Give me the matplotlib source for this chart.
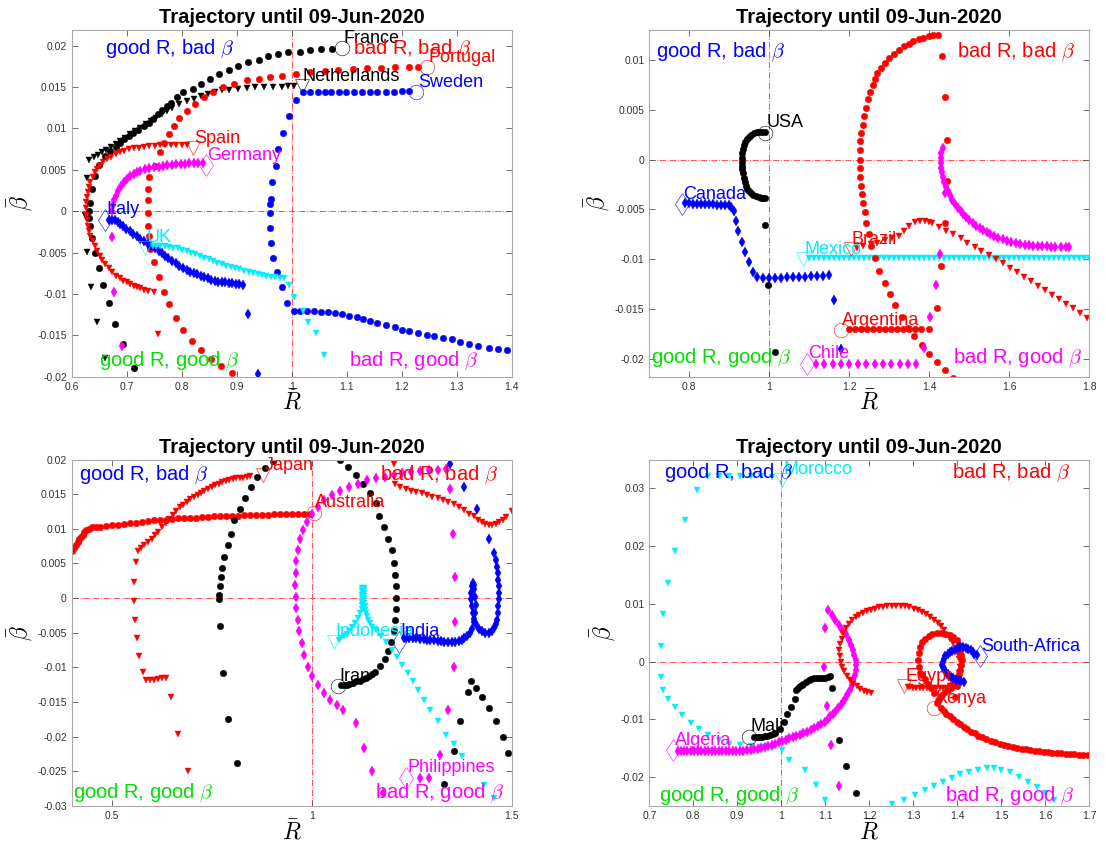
import matplotlib
matplotlib.use("Agg")
import matplotlib.pyplot as plt
import numpy as np
from matplotlib.ticker import FuncFormatter

plt.rcParams['font.family'] = ['Liberation Sans', 'DejaVu Sans']
plt.rcParams['mathtext.fontset'] = 'cm'

TITLE = 'Trajectory until 09-Jun-2020'

# ---------------- panel 1 (Europe) ----------------
france = [(0.7125,-0.0189),(0.693,-0.0161),(0.679,-0.0136),(0.668,-0.0111),(0.657,-0.0089),(0.649,-0.0068),
          (0.642,-0.005),(0.637,-0.0032),(0.633,-0.0018),(0.631,-0.0008),(0.632,0.0),(0.634,0.001),(0.637,0.0027),
          (0.642,0.0043),(0.650,0.0056),(0.661,0.0067),(0.670,0.0073),(0.68,0.0078),(0.688,0.0083),(0.696,0.0087),
          (0.704,0.0091),(0.711,0.0095),(0.72,0.0098),(0.732,0.0103),(0.740,0.0107),(0.748,0.0111),(0.757,0.0117),
          (0.765,0.0122),(0.773,0.0127),(0.781,0.0131),(0.792,0.0138),(0.803,0.0144),(0.82,0.0148),(0.836,0.0154),
          (0.852,0.016),(0.868,0.0166),(0.886,0.0171),(0.902,0.0175),(0.92,0.018),(0.94,0.0183),(0.957,0.0187),
          (0.976,0.019),(0.994,0.0192),(1.015,0.0193),(1.034,0.0195),(1.053,0.0196),(1.073,0.0196)]
france_end = (1.092, 0.0197)

netherlands = [(0.661,-0.0177),(0.646,-0.0134),(0.635,-0.0091),(0.628,-0.0049),(0.624,-0.0004),(0.627,0.004),
               (0.632,0.0062),(0.640,0.0065),(0.648,0.0068),(0.655,0.0071),(0.663,0.0074),(0.672,0.0078),(0.68,0.0081),
               (0.688,0.0085),(0.697,0.0089),(0.706,0.0093),(0.715,0.0097),(0.725,0.0101),(0.735,0.0105),(0.745,0.0109),
               (0.754,0.0113),(0.764,0.0117),(0.774,0.0121),(0.783,0.0125),(0.796,0.0129),(0.809,0.0133),(0.822,0.0136),
               (0.835,0.0139),(0.848,0.0142),(0.86,0.0144),(0.873,0.0146),(0.886,0.0147),(0.902,0.0148),(0.918,0.0149),
               (0.934,0.015),(0.95,0.015),(0.966,0.015),(0.982,0.015),(0.994,0.0151),(1.005,0.0151)]
netherlands_end = (1.018, 0.0151)

portugal = [(0.891,-0.0195),(0.872,-0.0187),(0.854,-0.0178),(0.835,-0.0168),(0.819,-0.0157),(0.803,-0.0143),
            (0.79,-0.0129),(0.777,-0.0112),(0.767,-0.0097),(0.758,-0.0079),(0.749,-0.0061),(0.743,-0.0046),
            (0.741,-0.003),(0.739,-0.0018),(0.738,-0.0002),(0.738,0.0013),(0.739,0.0027),(0.741,0.0041),
            (0.751,0.0055),(0.761,0.0071),(0.767,0.0083),(0.777,0.0093),(0.786,0.0103),(0.796,0.0113),
            (0.809,0.0121),(0.825,0.0129),(0.841,0.0138),(0.857,0.0144),(0.876,0.015),(0.896,0.0154),
            (0.918,0.0158),(0.941,0.016),(0.96,0.0162),(0.983,0.0164),(1.008,0.0166),(1.034,0.0168),
            (1.06,0.017),(1.085,0.0171),(1.111,0.0172),(1.137,0.0173),(1.163,0.0173),(1.188,0.0174),
            (1.214,0.0174),(1.23,0.0174)]
portugal_end = (1.247, 0.0174)

sweden = [(1.391,-0.0168),(1.375,-0.0166),(1.359,-0.0165),(1.339,-0.0163),(1.323,-0.016),(1.307,-0.0158),
          (1.291,-0.0155),(1.275,-0.0153),(1.259,-0.0151),(1.246,-0.0149),(1.23,-0.0147),(1.214,-0.0145),
          (1.201,-0.0143),(1.188,-0.014),(1.172,-0.0138),(1.156,-0.0135),(1.143,-0.0133),(1.13,-0.013),
          (1.118,-0.0128),(1.105,-0.0126),(1.092,-0.0124),(1.079,-0.0123),(1.066,-0.0122),(1.053,-0.0122),
          (1.04,-0.0121),(1.028,-0.0121),(1.015,-0.012),(1.004,-0.012),(0.992,-0.0111),(0.983,-0.0092),
          (0.974,-0.0074),(0.966,-0.0056),(0.963,-0.0038),(0.961,-0.002),(0.96,-0.0002),(0.96,0.0009),
          (0.963,0.0015),(0.965,0.0035),(0.972,0.0055),(0.976,0.0075),(0.985,0.0094),(0.995,0.0115),
          (1.008,0.0134),(1.021,0.0144),(1.034,0.0144),(1.047,0.0144),(1.06,0.0144),(1.072,0.0144),
          (1.086,0.0144),(1.099,0.0144),(1.113,0.0144),(1.128,0.0144),(1.142,0.0144),(1.156,0.0144),
          (1.172,0.0144),(1.186,0.0144),(1.2,0.0145),(1.214,0.0145)]
sweden_end = (1.227, 0.0144)

italy = [(0.938,-0.0197),(0.921,-0.0124),(0.912,-0.0089),(0.905,-0.0088),(0.899,-0.0088),(0.892,-0.0087),
         (0.886,-0.0087),(0.879,-0.0086),(0.873,-0.0086),(0.866,-0.0085),(0.86,-0.0084),(0.854,-0.0083),
         (0.848,-0.0081),(0.841,-0.008),(0.835,-0.0078),(0.828,-0.0076),(0.822,-0.0075),(0.815,-0.0073),
         (0.809,-0.0071),(0.802,-0.0068),(0.796,-0.0066),(0.79,-0.0063),(0.783,-0.006),(0.776,-0.0057),
         (0.77,-0.0054),(0.764,-0.0051),(0.758,-0.0048),(0.751,-0.0045),(0.745,-0.0042),(0.738,-0.0039),
         (0.732,-0.0036),(0.725,-0.0033),(0.719,-0.003),(0.712,-0.0027),(0.706,-0.0024),(0.699,-0.0021),
         (0.693,-0.0018),(0.688,-0.0015),(0.684,-0.0013),(0.679,-0.0011),(0.674,-0.001),(0.668,-0.001)]
italy_end = (0.661, -0.001)

germany = [(0.692,-0.0163),(0.677,-0.0097),(0.673,-0.0031),(0.674,0.0),(0.675,0.0007),(0.677,0.0013),
           (0.68,0.0019),(0.685,0.0025),(0.69,0.0031),(0.695,0.0035),(0.7,0.0039),(0.706,0.0042),(0.713,0.0045),
           (0.719,0.0047),(0.725,0.0049),(0.733,0.0051),(0.741,0.0052),(0.75,0.0053),(0.758,0.0054),(0.766,0.0055),
           (0.774,0.0056),(0.782,0.0056),(0.79,0.0057),(0.798,0.0057),(0.806,0.0057),(0.814,0.0058),(0.822,0.0058),
           (0.83,0.0058),(0.838,0.0058)]
germany_end = (0.844, 0.0056)

spain = [(0.757,-0.0148),(0.749,-0.0097),(0.738,-0.0096),(0.731,-0.0095),(0.725,-0.0093),(0.719,-0.0092),
         (0.713,-0.009),(0.706,-0.0088),(0.7,-0.0086),(0.693,-0.0084),(0.687,-0.0081),(0.68,-0.0078),
         (0.674,-0.0074),(0.667,-0.0069),(0.661,-0.0064),(0.656,-0.0059),(0.651,-0.0054),(0.646,-0.0048),
         (0.642,-0.0042),(0.638,-0.0036),(0.634,-0.003),(0.631,-0.0024),(0.629,-0.0018),(0.627,-0.0011),
         (0.626,-0.0004),(0.626,0.0004),(0.626,0.0011),(0.627,0.0017),(0.629,0.0023),(0.631,0.0029),
         (0.634,0.0035),(0.638,0.0041),(0.642,0.0047),(0.646,0.0051),(0.651,0.0055),(0.657,0.0059),
         (0.664,0.0063),(0.672,0.0066),(0.68,0.0069),(0.688,0.0071),(0.696,0.0073),(0.704,0.0075),
         (0.713,0.0076),(0.722,0.0077),(0.732,0.0078),(0.741,0.0079),(0.751,0.0079),(0.76,0.008),
         (0.77,0.008),(0.78,0.008),(0.79,0.008),(0.8,0.008),(0.809,0.008)]
spain_end = (0.82, 0.0076)

uk = [(1.058,-0.0174),(1.044,-0.0147),(1.029,-0.0134),(1.02,-0.0121),(1.005,-0.0104),(0.995,-0.0089),
      (0.986,-0.0081),(0.978,-0.0081),(0.97,-0.008),(0.962,-0.0079),(0.954,-0.0078),(0.946,-0.0077),
      (0.938,-0.0076),(0.93,-0.0075),(0.922,-0.0073),(0.913,-0.0072),(0.905,-0.007),(0.897,-0.0069),
      (0.889,-0.0067),(0.881,-0.0066),(0.873,-0.0064),(0.865,-0.0062),(0.857,-0.006),(0.849,-0.0058),
      (0.841,-0.0056),(0.833,-0.0054),(0.825,-0.0052),(0.817,-0.005),(0.809,-0.0048),(0.801,-0.0047),
      (0.793,-0.0045),(0.785,-0.0044),(0.777,-0.0043),(0.769,-0.0042),(0.761,-0.0042),(0.754,-0.0042),
      (0.748,-0.0042)]
uk_end = (0.734, -0.0044)

# ---------------- panel 2 (Americas) ----------------
usa = [(0.989,0.0028),(0.982,0.0028),(0.975,0.0028),(0.968,0.0028),(0.962,0.0027),(0.955,0.0025),
       (0.949,0.0023),(0.944,0.0021),(0.94,0.0018),(0.937,0.0015),(0.934,0.0011),(0.932,0.0007),
       (0.931,0.0002),(0.931,-0.0002),(0.931,-0.0006),(0.932,-0.001),(0.934,-0.0014),(0.936,-0.0019),
       (0.938,-0.0023),(0.941,-0.0027),(0.944,-0.003),(0.948,-0.0032),(0.953,-0.0034),(0.96,-0.0036),
       (0.967,-0.0037),(0.973,-0.0038),(0.98,-0.0039),(0.985,-0.0039),(0.989,-0.0039),
       (0.989,-0.0066),(0.997,-0.0126),(1.013,-0.0193)]
usa_end = (0.989, 0.0027)

canada = [(0.79,-0.0044),(0.8,-0.0044),(0.81,-0.0045),(0.82,-0.0045),(0.83,-0.0045),(0.84,-0.0045),
          (0.85,-0.0045),(0.86,-0.0045),(0.87,-0.0046),(0.88,-0.0046),(0.89,-0.0046),(0.9,-0.0046),
          (0.905,-0.0048),(0.911,-0.0052),(0.916,-0.0062),(0.922,-0.0072),(0.931,-0.0083),(0.94,-0.0093),
          (0.95,-0.0103),(0.96,-0.0113),(0.97,-0.0118),(0.985,-0.0119),(1.0,-0.0119),(1.015,-0.0119),
          (1.03,-0.0119),(1.045,-0.0118),(1.06,-0.0118),(1.075,-0.0118),(1.09,-0.0118),(1.105,-0.0117),
          (1.12,-0.0117),(1.135,-0.0117),(1.15,-0.0116),(1.162,-0.0141),(1.18,-0.019)]
canada_end = (0.782, -0.0045)

mexico_R = [1.100,1.112,1.125,1.137,1.150,1.162,1.175,1.187,1.200,1.212,1.225,1.237,1.250,1.262,1.275,
            1.287,1.300,1.312,1.325,1.337,1.350,1.362,1.375,1.387,1.400,1.412,1.425,1.437,1.450,1.462,
            1.475,1.487,1.500,1.512,1.525,1.537,1.550,1.562,1.575,1.587,1.600,1.612,1.625,1.637,1.650,
            1.662,1.675,1.687,1.700,1.712,1.725,1.737,1.750,1.762,1.775,1.787,1.800]
mexico_b = -0.0099
mexico_end = (1.085, -0.0100)

brazil = [(1.795,-0.0159),(1.777,-0.0154),(1.76,-0.0149),(1.742,-0.0145),(1.724,-0.014),(1.707,-0.0136),
          (1.689,-0.0131),(1.671,-0.0127),(1.654,-0.0122),(1.636,-0.0118),(1.618,-0.0113),(1.601,-0.0109),
          (1.583,-0.0104),(1.566,-0.01),(1.548,-0.0096),(1.53,-0.0092),(1.513,-0.0088),(1.495,-0.0084),
          (1.478,-0.0079),(1.46,-0.0075),(1.442,-0.0072),(1.425,-0.0068),(1.407,-0.0064),(1.398,-0.0063),
          (1.389,-0.0062),(1.376,-0.0062),(1.363,-0.0063),(1.35,-0.0067),(1.337,-0.0072),(1.323,-0.0077),
          (1.306,-0.0079),(1.288,-0.0081),(1.27,-0.0084),(1.253,-0.0085),(1.235,-0.0087),(1.218,-0.0089)]
brazil_end = (1.203, -0.0090)

argentina = [(1.2,-0.017),(1.215,-0.017),(1.23,-0.017),(1.245,-0.017),(1.26,-0.017),(1.275,-0.017),
             (1.29,-0.017),(1.305,-0.017),(1.32,-0.017),(1.335,-0.017),(1.35,-0.017),(1.365,-0.017),
             (1.38,-0.017),(1.4,-0.017),
             (1.459,-0.0219),(1.439,-0.0211),(1.42,-0.0203),(1.4,-0.0195),(1.381,-0.0186),(1.362,-0.0177),
             (1.346,-0.0169),(1.332,-0.0158),(1.315,-0.0146),(1.301,-0.0135),(1.288,-0.0124),(1.274,-0.0112),
             (1.264,-0.0099),(1.255,-0.0087),(1.248,-0.0075),(1.241,-0.0064),(1.238,-0.0053),(1.235,-0.0044),
             (1.231,-0.0035),(1.229,-0.0027),(1.227,-0.0018),(1.226,-0.0008),(1.226,0.0),(1.226,0.001),
             (1.227,0.0019),(1.23,0.0027),(1.233,0.0035),(1.237,0.0044),(1.241,0.0052),(1.246,0.0061),
             (1.251,0.0068),(1.258,0.0075),(1.263,0.0081),(1.27,0.0087),(1.278,0.0092),(1.288,0.0097),
             (1.299,0.0102),(1.311,0.0106),(1.323,0.011),(1.336,0.0114),(1.348,0.0116),(1.36,0.0119),
             (1.373,0.0121),(1.385,0.0122),(1.398,0.0124),(1.41,0.0125),(1.422,0.0125),
             (1.432,0.0104),(1.44,0.0063),(1.444,0.002),(1.443,-0.0022),(1.44,-0.0064),(1.43,-0.0107),
             (1.42,-0.0149)]
argentina_end = (1.178, -0.0171)

chile = [(1.116,-0.0205),(1.137,-0.0205),(1.158,-0.0205),(1.179,-0.0205),(1.2,-0.0205),(1.221,-0.0205),
         (1.242,-0.0205),(1.263,-0.0205),(1.284,-0.0205),(1.305,-0.0205),(1.326,-0.0205),(1.347,-0.0205),
         (1.367,-0.0205),
         (1.387,-0.0189),(1.402,-0.0158),(1.416,-0.0126),(1.426,-0.0095),(1.439,-0.0034),
         (1.433,0.0012),(1.43,0.0007),(1.429,0.0002),(1.429,-0.0003),(1.429,-0.0008),(1.431,-0.0013),
         (1.433,-0.0018),(1.437,-0.0023),(1.442,-0.0028),(1.446,-0.0032),(1.451,-0.0036),(1.457,-0.0041),
         (1.464,-0.0045),(1.471,-0.0049),(1.478,-0.0052),(1.484,-0.0055),(1.491,-0.0058),(1.499,-0.0061),
         (1.508,-0.0064),(1.517,-0.0067),(1.526,-0.0069),(1.535,-0.0071),(1.544,-0.0073),(1.552,-0.0075),
         (1.561,-0.0077),(1.572,-0.0079),(1.583,-0.008),(1.594,-0.0082),(1.605,-0.0083),(1.616,-0.0084),
         (1.627,-0.0085),(1.638,-0.0086),(1.649,-0.0086),(1.66,-0.0087),(1.671,-0.0087),(1.682,-0.0087),
         (1.693,-0.0087),(1.704,-0.0088),(1.715,-0.0088),(1.728,-0.0088),(1.742,-0.0088),(1.75,-0.0088)]
chile_end = (1.094, -0.0205)

# ---------------- panel 3 (Asia / Oceania) ----------------
australia = [(0.401,0.0068),(0.406,0.0072),(0.41,0.0077),(0.415,0.0081),(0.419,0.0085),(0.424,0.0088),
             (0.428,0.0091),(0.432,0.0095),(0.436,0.0098),(0.443,0.01),(0.45,0.0102),(0.46,0.0102),
             (0.47,0.0103),(0.485,0.0104),(0.5,0.0105),(0.515,0.0106),(0.53,0.0107),(0.545,0.0108),
             (0.56,0.0109),(0.575,0.011),(0.59,0.0111),(0.605,0.0112),(0.62,0.0113),(0.635,0.0113),
             (0.65,0.0114),(0.665,0.0115),(0.68,0.0115),(0.695,0.0116),(0.71,0.0116),(0.725,0.0117),
             (0.74,0.0117),(0.755,0.0118),(0.77,0.0118),(0.785,0.0119),(0.8,0.0119),(0.815,0.0119),
             (0.83,0.012),(0.845,0.012),(0.86,0.012),(0.875,0.012),(0.89,0.012),(0.905,0.0121),
             (0.92,0.0121),(0.935,0.0121),(0.95,0.0121),(0.965,0.0121),(0.98,0.0121),(0.995,0.0121)]
australia_end = (1.006, 0.0123)

japan = [(1.5,0.0126),(1.487,0.0117),(1.478,0.0113),(1.469,0.011),(1.46,0.0107),(1.452,0.0105),
         (1.443,0.0105),(1.434,0.0107),(1.425,0.011),(1.416,0.0113),(1.405,0.0118),(1.394,0.0122),
         (1.381,0.0127),(1.368,0.0132),(1.355,0.0136),(1.341,0.0139),(1.328,0.0142),(1.315,0.0144),
         (1.301,0.0146),(1.288,0.0149),(1.275,0.0151),(1.262,0.0153),(1.249,0.0155),(1.236,0.0158),
         (1.222,0.0161),(1.209,0.0165),(1.205,0.0194),
         (0.69,-0.025),(0.666,-0.0196),(0.648,-0.0142),(0.635,-0.0115),(0.625,-0.0116),(0.615,-0.0117),
         (0.605,-0.0118),(0.595,-0.0118),(0.587,-0.0118),(0.578,-0.0107),(0.569,-0.0084),(0.563,-0.0058),
         (0.558,-0.0031),(0.556,-0.0004),(0.556,0.0023),(0.56,0.0052),(0.567,0.0068),(0.574,0.0072),
         (0.582,0.0077),(0.591,0.0081),(0.6,0.0086),(0.608,0.0091),(0.617,0.0096),(0.626,0.0102),
         (0.635,0.0108),(0.644,0.0114),(0.653,0.012),(0.662,0.0126),(0.67,0.0131),(0.679,0.0135),
         (0.688,0.0139),(0.697,0.0143),(0.706,0.0146),(0.715,0.0149),(0.723,0.0152),(0.732,0.0155),
         (0.741,0.0158),(0.75,0.0161),(0.759,0.0163),(0.768,0.0165),(0.776,0.0167),(0.785,0.0169),
         (0.794,0.017),(0.803,0.0172),(0.812,0.0173),(0.82,0.0174),(0.829,0.0174),(0.838,0.0175),
         (0.847,0.0176)]
japan_end = (0.878, 0.0177)

iran = [(1.49,-0.0224),(1.478,-0.02),(1.461,-0.0178),(1.443,-0.0159),(1.426,-0.0143),(1.412,-0.013),
        (1.399,-0.012),(1.39,-0.0135),(1.372,-0.0178),(1.355,-0.0221),(1.331,-0.0268),
        (0.813,-0.0238),(0.792,-0.0174),(0.778,-0.0108),(0.77,-0.004),(0.769,-0.0002),(0.769,0.0004),
        (0.77,0.0018),(0.773,0.003),(0.776,0.0044),(0.782,0.006),(0.79,0.0077),(0.798,0.0093),
        (0.807,0.0112),(0.82,0.0128),(0.833,0.0145),(0.849,0.0161),(0.864,0.0175),(0.883,0.0188),
        (0.904,0.0198),(1.072,0.0199),(1.092,0.0189),(1.11,0.0177),(1.128,0.0165),(1.146,0.0151),
        (1.16,0.0137),(1.169,0.0118),(1.18,0.0102),(1.191,0.0086),(1.2,0.0069),(1.207,0.005),
        (1.209,0.0034),(1.211,0.0017),(1.211,0.0),(1.211,-0.0016),(1.209,-0.0031),(1.205,-0.0048),
        (1.198,-0.0064),(1.191,-0.0077),(1.183,-0.0088),(1.171,-0.0098),(1.158,-0.0106),(1.15,-0.0109),
        (1.143,-0.0112),(1.136,-0.0115),(1.128,-0.0117),(1.12,-0.0119),(1.112,-0.012),(1.103,-0.0122),
        (1.094,-0.0124),(1.088,-0.0125),(1.081,-0.0125),(1.074,-0.0126)]
iran_end = (1.066, -0.0127)

indonesia = [(1.456,-0.0288),(1.43,-0.0269),(1.377,-0.0228),(1.355,-0.0211),(1.335,-0.0197),(1.315,-0.0178),
             (1.297,-0.0161),(1.28,-0.0147),(1.266,-0.0132),(1.253,-0.012),(1.24,-0.0108),(1.227,-0.0096),
             (1.213,-0.0085),(1.2,-0.0075),(1.187,-0.0064),(1.174,-0.0055),(1.16,-0.0046),(1.152,-0.0041),
             (1.147,-0.0036),(1.142,-0.0031),(1.138,-0.0026),(1.136,-0.0021),(1.134,-0.0017),(1.133,-0.0012),
             (1.132,-0.0007),(1.131,-0.0002),(1.13,0.0003),(1.13,0.0008),(1.13,0.0012),(1.13,0.0015),
             (1.127,0.0015),(1.127,0.001),(1.127,0.0005),(1.127,0.0),(1.126,-0.0005),(1.126,-0.001),
             (1.125,-0.0015),(1.121,-0.0021),(1.115,-0.0029),(1.108,-0.0036),(1.101,-0.0042),(1.094,-0.0048),
             (1.088,-0.0052),(1.081,-0.0055),(1.074,-0.0058),(1.068,-0.006)]
indonesia_end = (1.057, -0.0063)

india = [(1.346,0.0194),(1.382,0.0161),(1.413,0.0129),(1.443,0.0086),(1.456,0.0065),(1.46,0.0055),
         (1.463,0.0045),(1.465,0.0036),(1.467,0.0026),(1.468,0.0017),(1.469,0.0007),(1.468,-0.0002),
         (1.467,-0.0012),(1.465,-0.0022),(1.463,-0.0031),(1.46,-0.0038),(1.456,-0.0043),(1.45,-0.0047),
         (1.443,-0.005),(1.434,-0.005),(1.425,-0.0048),(1.418,-0.0044),(1.412,-0.0038),(1.407,-0.003),
         (1.403,-0.0022),(1.401,-0.0012),(1.399,-0.0002),(1.399,0.0008),(1.4,0.0017),(1.403,0.0022),
         (1.406,0.0019),(1.407,0.0013),(1.409,0.0002),(1.41,-0.001),(1.408,-0.0022),(1.405,-0.0034),
         (1.4,-0.0044),(1.395,-0.005),(1.388,-0.0055),(1.381,-0.0058),(1.375,-0.006),(1.368,-0.0062),
         (1.359,-0.0063),(1.35,-0.0063),(1.341,-0.0063),(1.332,-0.0063),(1.323,-0.0062),(1.315,-0.0062),
         (1.306,-0.0061),(1.297,-0.006),(1.288,-0.006),(1.28,-0.0059),(1.271,-0.0059),(1.262,-0.0058),
         (1.253,-0.0058),(1.244,-0.0058),(1.237,-0.0058),(1.231,-0.0058)]
india_end = (1.218, -0.0063)

philippines = [(1.346,0.0158),(1.353,0.0093),(1.359,0.0031),(1.359,-0.0034),(1.355,-0.0099),(1.342,-0.0162),
               (1.32,-0.0226),(1.293,-0.026),(1.271,-0.026),
               (1.337,0.0187),(1.315,0.0185),(1.293,0.0185),(1.271,0.0184),(1.249,0.0182),(1.227,0.018),
               (1.205,0.0177),(1.183,0.0175),(1.16,0.0173),(1.138,0.017),(1.116,0.0165),(1.094,0.0161),
               (1.072,0.0155),(1.05,0.0149),(1.032,0.0141),(1.015,0.0132),(1.002,0.0122),(0.988,0.011),
               (0.979,0.0098),(0.972,0.0085),(0.966,0.0069),(0.962,0.0053),(0.96,0.0036),(0.959,0.0019),
               (0.96,0.0002),(0.962,-0.0014),(0.965,-0.0031),(0.969,-0.0048),(0.975,-0.0065),(0.981,-0.0082),
               (0.99,-0.0099),(1.002,-0.0113),(1.015,-0.0125),(1.031,-0.0137),(1.046,-0.0147),(1.064,-0.0154),
               (1.079,-0.0161),(1.11,-0.018),(1.13,-0.0216),(1.152,-0.025),(1.178,-0.0281)]
philippines_end = (1.236, -0.0259)

# ---------------- panel 4 (Africa) ----------------
morocco = [(1.099,-0.024),(1.079,-0.0214),(1.054,-0.0188),(1.018,-0.0171),(1.002,-0.0153),(0.978,-0.015),
           (0.954,-0.0147),(0.93,-0.0146),(0.906,-0.0145),(0.882,-0.0142),(0.858,-0.0136),(0.834,-0.0127),
           (0.814,-0.0117),(0.794,-0.0106),(0.774,-0.0092),(0.758,-0.0078),(0.742,-0.0064),(0.73,-0.0049),
           (0.726,-0.0027),(0.727,0.0027),(0.732,0.0083),(0.742,0.0137),(0.759,0.0192),(0.782,0.0246),
           (0.808,0.0297),(0.834,0.0321),(0.858,0.0322),(0.882,0.0322),(0.906,0.0322),(0.93,0.0321),
           (0.954,0.0321),(0.978,0.032),
           (1.251,-0.0246),(1.279,-0.0239),(1.303,-0.0231),(1.327,-0.0223),(1.347,-0.0215),(1.367,-0.0208),
           (1.387,-0.0201),(1.407,-0.0195),(1.427,-0.0191),(1.447,-0.0187),(1.468,-0.0185),(1.484,-0.0185),
           (1.5,-0.0187),(1.52,-0.0192),(1.54,-0.0199),(1.56,-0.0208),(1.58,-0.0217),(1.6,-0.0228),
           (1.62,-0.024)]
morocco_end = (1.001, 0.0315)

mali = [(1.169,-0.0227),(1.147,-0.018),(1.132,-0.0136),(1.115,-0.0046),(1.111,-0.0025),(1.105,-0.0026),
        (1.099,-0.0028),(1.093,-0.0028),(1.087,-0.0028),(1.081,-0.0028),(1.075,-0.0029),(1.068,-0.003),
        (1.062,-0.0032),(1.056,-0.0035),(1.05,-0.0038),(1.046,-0.004),(1.042,-0.0043),(1.038,-0.0046),
        (1.034,-0.0049),(1.03,-0.0064),(1.022,-0.0078),(1.014,-0.009),(1.006,-0.0104),(0.998,-0.0116),
        (0.986,-0.0123),(0.98,-0.0125),(0.974,-0.0127),(0.968,-0.0128),(0.962,-0.0129),(0.956,-0.013),
        (0.95,-0.013),(0.944,-0.013),(0.938,-0.013)]
mali_end = (0.926, -0.0130)

algeria = [(1.1,0.0058),(1.097,-0.0009),(1.103,-0.0076),(1.113,-0.0145),(1.131,-0.0216),
           (1.107,0.009),(1.115,0.0081),(1.123,0.0072),(1.131,0.0064),(1.139,0.0055),(1.146,0.0047),
           (1.153,0.0038),(1.158,0.0029),(1.163,0.002),(1.166,0.0012),(1.169,0.0003),(1.169,-0.0005),
           (1.169,-0.0014),(1.167,-0.0023),(1.164,-0.0032),(1.16,-0.004),(1.155,-0.0049),(1.15,-0.0057),
           (1.145,-0.0064),(1.14,-0.007),(1.135,-0.0075),(1.129,-0.0081),(1.123,-0.0087),(1.117,-0.0091),
           (1.111,-0.0095),(1.105,-0.01),(1.099,-0.0104),(1.091,-0.0108),(1.083,-0.0112),(1.075,-0.0115),
           (1.067,-0.0118),(1.059,-0.0121),(1.05,-0.0124),(1.042,-0.0127),(1.034,-0.0129),(1.026,-0.0131),
           (1.018,-0.0133),(1.01,-0.0135),(1.002,-0.0137),(0.994,-0.014),(0.986,-0.0142),(0.978,-0.0144),
           (0.97,-0.0146),(0.962,-0.0148),(0.954,-0.0149),(0.946,-0.0151),(0.938,-0.0152),(0.93,-0.0153),
           (0.922,-0.0153),(0.914,-0.0154),(0.906,-0.0154),(0.898,-0.0155),(0.89,-0.0155),(0.882,-0.0155),
           (0.874,-0.0155),(0.866,-0.0155),(0.858,-0.0155),(0.85,-0.0155),(0.842,-0.0155),(0.834,-0.0155),
           (0.826,-0.0155),(0.818,-0.0155),(0.81,-0.0155),(0.802,-0.0155),(0.794,-0.0155),(0.786,-0.0155),
           (0.778,-0.0155),(0.772,-0.0155),(0.766,-0.0155)]
algeria_end = (0.754, -0.0153)

egypt = [(1.203,-0.0055),(1.195,-0.0053),(1.187,-0.005),(1.179,-0.0047),(1.171,-0.0043),(1.163,-0.0038),
         (1.155,-0.0032),(1.149,-0.0025),(1.143,-0.0017),(1.139,-0.0009),(1.135,0.0),(1.133,0.001),
         (1.132,0.002),(1.134,0.003),(1.137,0.004),(1.141,0.0049),(1.147,0.0058),(1.154,0.0065),
         (1.161,0.0072),(1.169,0.0077),(1.177,0.0081),(1.186,0.0085),(1.195,0.0088),(1.203,0.009),
         (1.212,0.0092),(1.221,0.0094),(1.231,0.0095),(1.241,0.0096),(1.251,0.0097),(1.261,0.0097),
         (1.271,0.0097),(1.281,0.0096),(1.291,0.0094),(1.301,0.0092),(1.311,0.009),(1.32,0.0086),
         (1.329,0.0082),(1.338,0.0077),(1.347,0.0072),(1.355,0.0067),(1.363,0.0061),(1.37,0.0054),
         (1.377,0.0046),(1.384,0.0039),(1.391,0.0032),(1.396,0.0023),(1.401,0.0014),(1.404,0.0004),
         (1.405,-0.001),(1.403,-0.0019),(1.4,-0.0028),(1.395,-0.0035),(1.39,-0.004),(1.383,-0.0043),
         (1.375,-0.0045),(1.367,-0.0046),(1.36,-0.0046),(1.352,-0.0046),(1.345,-0.0046),(1.337,-0.0046),
         (1.33,-0.0046),(1.322,-0.0045),(1.315,-0.0045),(1.307,-0.0045),(1.3,-0.0045),(1.293,-0.0044),
         (1.287,-0.0044)]
egypt_end = (1.279, -0.0043)

kenya = [(1.696,-0.0161),(1.686,-0.0161),(1.676,-0.0161),(1.666,-0.016),(1.656,-0.016),(1.646,-0.016),
         (1.636,-0.0159),(1.626,-0.0159),(1.616,-0.0158),(1.606,-0.0157),(1.596,-0.0156),(1.586,-0.0155),
         (1.576,-0.0154),(1.566,-0.0153),(1.556,-0.0152),(1.546,-0.0151),(1.536,-0.0149),(1.526,-0.0148),
         (1.516,-0.0146),(1.506,-0.0144),(1.496,-0.0142),(1.486,-0.014),(1.476,-0.0137),(1.466,-0.0134),
         (1.456,-0.0131),(1.448,-0.0128),(1.44,-0.0124),(1.431,-0.0121),(1.423,-0.0117),(1.415,-0.0113),
         (1.407,-0.0108),(1.399,-0.0104),(1.391,-0.0099),(1.383,-0.0095),(1.375,-0.009),(1.369,-0.0086),
         (1.363,-0.0081),(1.355,-0.0069),(1.347,-0.0055),(1.34,-0.0045),(1.333,-0.0038),(1.326,-0.003),
         (1.32,-0.0024),(1.315,-0.002),(1.313,-0.0009),(1.311,0.0003),(1.312,0.0015),(1.315,0.0026),
         (1.32,0.0034),(1.327,0.004),(1.335,0.0044),(1.343,0.0047),(1.353,0.0049),(1.363,0.0049),
         (1.373,0.0048),(1.383,0.0046),(1.391,0.0043),(1.399,0.0038),(1.404,0.0029),(1.407,0.002),
         (1.409,0.0011),(1.41,0.0003),(1.409,-0.0006),(1.407,-0.0014),(1.404,-0.0022),(1.401,-0.0029),
         (1.396,-0.0035),(1.391,-0.004),(1.385,-0.0045),(1.379,-0.0049),(1.372,-0.0053),(1.366,-0.0057),
         (1.359,-0.0064),(1.353,-0.0072),(1.399,-0.0043),(1.395,-0.0061)]
kenya_end = (1.347, -0.0081)

south_africa = [(1.444,0.0011),(1.439,0.0014),(1.435,0.0017),(1.431,0.002),(1.425,0.0022),(1.419,0.0024),
                (1.413,0.0025),(1.407,0.0025),(1.401,0.0023),(1.395,0.0021),(1.389,0.0019),(1.383,0.0016),
                (1.378,0.0013),(1.373,0.0009),(1.37,0.0005),(1.367,0.0),(1.366,-0.0005),(1.367,-0.0009),
                (1.37,-0.0013),(1.373,-0.0017),(1.377,-0.0021),(1.381,-0.0025),(1.386,-0.0027),(1.391,-0.0029),
                (1.397,-0.0031),(1.403,-0.0032),(1.409,-0.0034),(1.415,-0.0035)]
south_africa_end = (1.451, 0.0009)

BLUE, RED, MAG, CYAN, BLACK, GREEN = '#0000ff', '#ff0000', '#ff00ff', '#00eeff', 'black', '#00e000'


def style_axes(ax, xlim, ylim, xticks, yticks):
    ax.set_xlim(xlim)
    ax.set_ylim(ylim)
    ax.set_xticks(xticks)
    ax.set_yticks(yticks)
    fmt = FuncFormatter(lambda v, p: '%g' % round(v, 6))
    ax.xaxis.set_major_formatter(fmt)
    ax.yaxis.set_major_formatter(fmt)
    ax.tick_params(direction='in', top=True, right=True, length=4, width=0.6,
                   labelsize=7.5, colors='#555555', labelcolor='#333333')
    for s in ax.spines.values():
        s.set_color('#aaaaaa')
        s.set_linewidth(0.8)
    # reference lines R = 1 and beta = 0
    ax.axvline(1.0, color='#ff5050', ls='-.', lw=0.7, zorder=0.5)
    ax.axhline(0.0, color='#ff5050', ls='-.', lw=0.7, zorder=0.5)
    ax.set_title(TITLE, fontsize=14.5, fontweight='bold', pad=5)
    ax.set_xlabel(r'$\bar{R}$', fontsize=17, labelpad=-1)
    ax.set_ylabel(r'$\bar{\beta}$', fontsize=17, labelpad=2)


def country(ax, pts, end, color, marker, name):
    p = np.array(pts)
    ms = 5.3 if marker == 'd' else 4.7
    ax.plot(p[:, 0], p[:, 1], ls='none', marker=marker, ms=ms, mfc=color, mec=color, mew=0.3)
    ax.plot([end[0]], [end[1]], ls='none', marker=marker, ms=11.5 if marker == 'd' else 10.5,
            mfc='none', mec=color, mew=0.5, alpha=0.8)
    ax.annotate(name, end, xytext=(1, 1), textcoords='offset points', ha='left', va='bottom',
                color=color, fontsize=13, clip_on=False)


def quadrants(ax, tl, tr, bl, br):
    kw = dict(transform=ax.transAxes, fontsize=14.5, ha='left', va='center')
    ax.text(tl[0], tl[1], r'good R, bad $\beta$', color=BLUE, **kw)
    ax.text(tr[0], tr[1], r'bad R, bad $\beta$', color=RED, **kw)
    ax.text(bl[0], bl[1], r'good R, good $\beta$', color=GREEN, **kw)
    ax.text(br[0], br[1], r'bad R, good $\beta$', color=MAG, **kw)


fig = plt.figure(figsize=(11.06, 8.43), dpi=100)
ax1 = fig.add_axes([0.0648, 0.5531, 0.3978, 0.4113])
ax2 = fig.add_axes([0.5871, 0.5531, 0.3978, 0.4113])
ax3 = fig.add_axes([0.0648, 0.0439, 0.3978, 0.4110])
ax4 = fig.add_axes([0.5871, 0.0439, 0.3978, 0.4110])

# panel 1
style_axes(ax1, (0.6, 1.4), (-0.02, 0.0219), np.arange(0.6, 1.41, 0.1), np.arange(-0.02, 0.0201, 0.005))
country(ax1, france, france_end, BLACK, 'o', 'France')
country(ax1, netherlands, netherlands_end, BLACK, 'v', 'Netherlands')
country(ax1, portugal, portugal_end, RED, 'o', 'Portugal')
country(ax1, sweden, sweden_end, BLUE, 'o', 'Sweden')
country(ax1, italy, italy_end, BLUE, 'd', 'Italy')
country(ax1, germany, germany_end, MAG, 'd', 'Germany')
country(ax1, spain, spain_end, RED, 'v', 'Spain')
country(ax1, uk, uk_end, CYAN, 'v', 'UK')
quadrants(ax1, (0.076, 0.947), (0.64, 0.947), (0.063, 0.045), (0.63, 0.045))

# panel 2
style_axes(ax2, (0.7, 1.8), (-0.0218, 0.013), np.arange(0.8, 1.81, 0.2), np.arange(-0.02, 0.0101, 0.005))
country(ax2, usa, usa_end, BLACK, 'o', 'USA')
country(ax2, canada, canada_end, BLUE, 'd', 'Canada')
country(ax2, [(r, mexico_b) for r in mexico_R], mexico_end, CYAN, 'v', 'Mexico')
country(ax2, brazil, brazil_end, RED, 'v', 'Brazil')
country(ax2, argentina, argentina_end, RED, 'o', 'Argentina')
country(ax2, chile, chile_end, MAG, 'd', 'Chile')
quadrants(ax2, (0.016, 0.936), (0.70, 0.936), (0.003, 0.055), (0.69, 0.055))

# panel 3
style_axes(ax3, (0.4, 1.5), (-0.03, 0.02), [0.5, 1.0, 1.5], np.arange(-0.03, 0.0201, 0.005))
country(ax3, australia, australia_end, RED, 'o', 'Australia')
country(ax3, japan, japan_end, RED, 'v', 'Japan')
country(ax3, iran, iran_end, BLACK, 'o', 'Iran')
country(ax3, philippines, philippines_end, MAG, 'd', 'Philippines')
country(ax3, indonesia, indonesia_end, CYAN, 'v', 'Indonesia')
country(ax3, india, india_end, BLUE, 'd', 'India')
quadrants(ax3, (0.016, 0.955), (0.70, 0.955), (0.002, 0.038), (0.69, 0.038))

# panel 4
style_axes(ax4, (0.7, 1.7), (-0.025, 0.035), np.arange(0.7, 1.71, 0.1), np.arange(-0.02, 0.0301, 0.01))
country(ax4, morocco, morocco_end, CYAN, 'v', 'Morocco')
country(ax4, algeria, algeria_end, MAG, 'd', 'Algeria')
country(ax4, mali, mali_end, BLACK, 'o', 'Mali')
country(ax4, egypt, egypt_end, RED, 'v', 'Egypt')
country(ax4, kenya, kenya_end, RED, 'o', 'Kenya')
country(ax4, south_africa, south_africa_end, BLUE, 'd', 'South-Africa')
quadrants(ax4, (0.034, 0.962), (0.687, 0.962), (0.022, 0.03), (0.673, 0.03))

fig.savefig('out.png', dpi=100, facecolor='white')
